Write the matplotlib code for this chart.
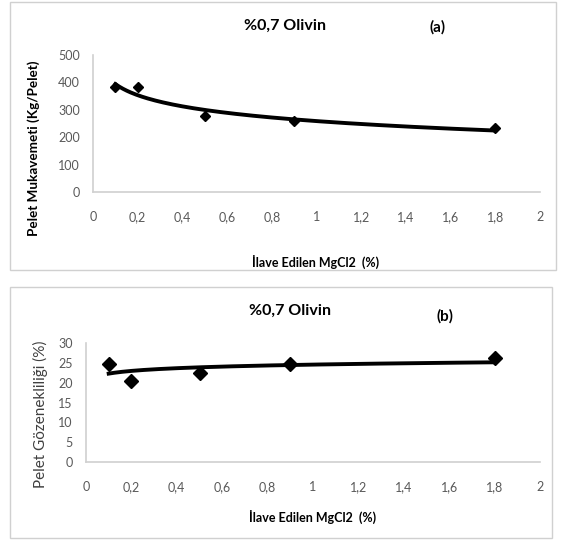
import matplotlib
matplotlib.use("Agg")
import matplotlib.pyplot as plt
import numpy as np
from matplotlib.patches import Rectangle

plt.rcParams['font.family'] = ['Lato', 'DejaVu Sans']

mgcl2 = [0.1, 0.2, 0.5, 0.9, 1.8]
strength = [383, 383, 277, 258, 235]
porosity = [24.7, 20.5, 22.5, 24.7, 26.3]
xticks = [0, 0.2, 0.4, 0.6, 0.8, 1, 1.2, 1.4, 1.6, 1.8, 2]
xtick_labels = ["0", "0,2", "0,4", "0,6", "0,8", "1", "1,2", "1,4", "1,6", "1,8", "2"]
title = "%0,7 Olivin"
xlabel = "İlave Edilen MgCl2  (%)"

W, H = 564, 542
fig = plt.figure(figsize=(W / 100, H / 100), dpi=100)

def fx(px):
    return px / W

def fy(py):
    return 1 - py / H

# panel borders
for (x0, y0, x1, y1) in [(10, 2, 556, 270), (10, 287, 552, 538)]:
    fig.patches.append(Rectangle((fx(x0), fy(y1)), fx(x1) - fx(x0), fy(y0) - fy(y1),
                                 transform=fig.transFigure, fill=False,
                                 edgecolor="#d0d0d0", linewidth=1.0))

grey = "#595959"

def style(ax, ylim, yticks):
    ax.set_xlim(0, 2)
    ax.set_ylim(*ylim)
    ax.set_xticks(xticks)
    ax.set_xticklabels(xtick_labels)
    ax.set_yticks(yticks)
    for s in ["top", "right"]:
        ax.spines[s].set_visible(False)
    for s in ["left", "bottom"]:
        ax.spines[s].set_color("#d0d0d0")
        ax.spines[s].set_linewidth(1.2)
    ax.tick_params(length=0, labelsize=9, colors=grey, pad=14)
    ax.tick_params(axis="y", pad=9.5)
    ax.patch.set_alpha(0)

def trend(ax, x, y):
    lx = np.log(np.array(x))
    b, a = np.polyfit(lx, np.array(y), 1)
    xs = np.linspace(min(x), max(x), 200)
    ax.plot(xs, a + b * np.log(xs), color="black", linewidth=2.8, zorder=2)

# panel (a)
ax1 = fig.add_axes([fx(93), fy(192), fx(540) - fx(93), fy(55) - fy(192)])
style(ax1, (0, 500), [0, 100, 200, 300, 400, 500])
trend(ax1, mgcl2, strength)
ax1.plot(mgcl2, strength, linestyle="none", marker="D", markersize=5.5, color="black", zorder=3)
fig.text(fx(285), fy(26), title, ha="center", va="center", fontsize=11.5, fontweight="bold")
fig.text(fx(438), fy(27), "(a)", ha="center", va="center", fontsize=11, fontweight="bold")
fig.text(fx(34), fy(148), "Pelet Mukavemeti (Kg/Pelet)", rotation=90, ha="center", va="center",
         fontsize=9.7, fontweight="bold")
fig.text(fx(316), fy(262), xlabel, ha="center", va="center", fontsize=9, fontweight="bold")

# panel (b)
ax2 = fig.add_axes([fx(86), fy(462), fx(540) - fx(86), fy(343) - fy(462)])
style(ax2, (0, 30), [0, 5, 10, 15, 20, 25, 30])
trend(ax2, mgcl2, porosity)
ax2.plot(mgcl2, porosity, linestyle="none", marker="D", markersize=7, color="black", zorder=3)
fig.text(fx(290), fy(311), title, ha="center", va="center", fontsize=11.5, fontweight="bold")
fig.text(fx(445), fy(316), "(b)", ha="center", va="center", fontsize=11, fontweight="bold")
fig.text(fx(40), fy(414), "Pelet Gözenekliliği (%)", rotation=90, ha="center", va="center",
         fontsize=11, color="#404040")
fig.text(fx(313), fy(517), xlabel, ha="center", va="center", fontsize=9, fontweight="bold")

fig.savefig("out.png", dpi=100)
